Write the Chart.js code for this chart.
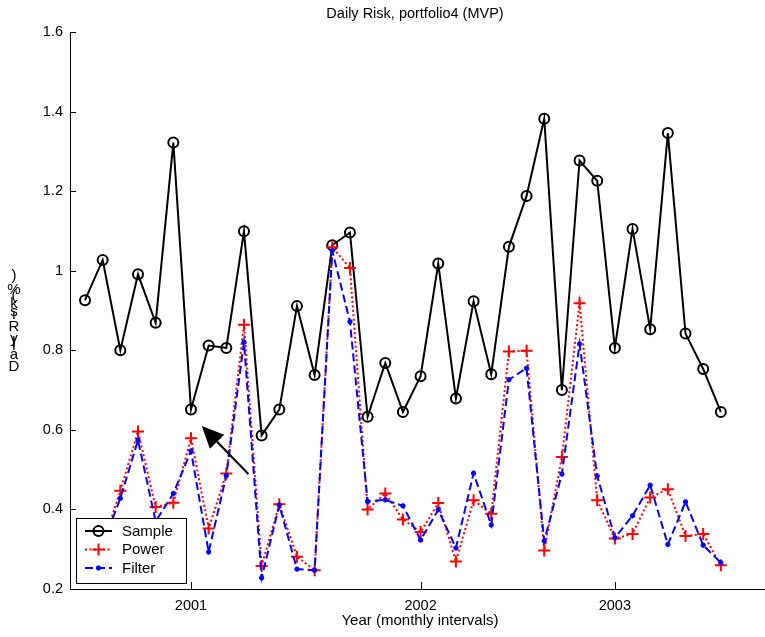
<!DOCTYPE html>
<html><head><meta charset="utf-8">
<script src="https://cdn.jsdelivr.net/npm/chart.js@4"></script>
<style>html,body{margin:0;padding:0;background:#fff}#wrap{width:765px;height:637px}</style>
</head><body><div id="wrap"><canvas id="c" width="765" height="637"></canvas></div>
<script>
// month index along the x axis (monthly intervals)
const monthIndex = [0,1,2,3,4,5,6,7,8,9,10,11,12,13,14,15,16,17,18,19,20,21,22,23,24,25,26,27,28,29,30,31,32,33,34,35,36];
const sampleRisk = [0.926,1.027,0.800,0.991,0.869,1.322,0.651,0.812,0.806,1.099,0.586,0.651,0.911,0.738,1.064,1.096,0.633,0.768,0.645,0.735,1.018,0.679,0.923,0.740,1.060,1.188,1.382,0.700,1.277,1.226,0.806,1.105,0.853,1.346,0.842,0.753,0.645];
const powerRisk  = [0.33,0.31,0.447,0.596,0.406,0.417,0.579,0.352,0.490,0.864,0.258,0.413,0.281,0.247,1.059,1.007,0.400,0.440,0.375,0.343,0.416,0.269,0.423,0.389,0.797,0.799,0.297,0.532,0.918,0.423,0.327,0.338,0.430,0.451,0.333,0.338,0.260];
const filterRisk = [0.33,0.31,0.428,0.574,0.370,0.440,0.547,0.293,0.485,0.820,0.228,0.411,0.250,0.247,1.050,0.872,0.420,0.424,0.409,0.323,0.399,0.303,0.491,0.361,0.726,0.755,0.321,0.489,0.816,0.484,0.329,0.384,0.461,0.312,0.419,0.310,0.266];
const yearTickPositions = [6,19,30];
const yearTickLabels = ['2001','2002','2003'];
const seriesNames = ['Sample','Power','Filter'];
const arrowTip = {x:6.61, y:0.610};
const arrowTail = {x:9.25, y:0.489};

const FONT = '"Liberation Sans", Arial, Helvetica, sans-serif';
const pts = arr => monthIndex.map((m,i)=>({x:m, y:arr[i]}));

// let the plot area reach the canvas edge (no marker overflow padding)
Chart.registry.getController('line').prototype.getMaxOverflow = function(){ return 0; };

const decor = {
  id:'decor',
  afterDraw(chart){
    const ctx = chart.ctx, a = chart.chartArea;
    const xs = chart.scales.x, ys = chart.scales.y;
    ctx.save();
    // inward tick marks
    ctx.strokeStyle = '#000'; ctx.lineWidth = 1;
    ys.ticks.forEach(t=>{
      const y = Math.round(ys.getPixelForValue(t.value))+0.5;
      ctx.beginPath(); ctx.moveTo(a.left, y); ctx.lineTo(a.left+6, y); ctx.stroke();
    });
    xs.ticks.forEach(t=>{
      const x = Math.round(xs.getPixelForValue(t.value))+0.5;
      ctx.beginPath(); ctx.moveTo(x, a.bottom); ctx.lineTo(x, a.bottom-7); ctx.stroke();
    });
    // title + x label
    ctx.fillStyle = '#000';
    ctx.font = '14.5px ' + FONT;
    ctx.textAlign = 'center'; ctx.textBaseline = 'middle';
    ctx.fillText('Daily Risk, portfolio4 (MVP)', 415, 14);
    ctx.font = '15px ' + FONT;
    ctx.fillText('Year (monthly intervals)', 420, 621);
    // y label: glyphs stacked upward, upright
    const lab = 'Daily Risk(%)';
    ctx.font = '15px ' + FONT;
    ctx.textAlign = 'center'; ctx.textBaseline = 'alphabetic';
    let pos = 371;
    for (const ch of lab){
      ctx.fillText(ch, 14, pos);
      pos -= ctx.measureText(ch).width * 1.07;
    }
    // arrow
    const tx = xs.getPixelForValue(arrowTip.x), ty = ys.getPixelForValue(arrowTip.y);
    const sx = xs.getPixelForValue(arrowTail.x), sy = ys.getPixelForValue(arrowTail.y);
    const ang = Math.atan2(ty-sy, tx-sx);
    const hl = 22, hw = 10;
    const bx = tx - hl*Math.cos(ang), by = ty - hl*Math.sin(ang);
    ctx.lineWidth = 2;
    ctx.beginPath(); ctx.moveTo(sx, sy); ctx.lineTo(bx, by); ctx.stroke();
    ctx.beginPath();
    ctx.moveTo(tx, ty);
    ctx.lineTo(bx + hw*Math.sin(ang), by - hw*Math.cos(ang));
    ctx.lineTo(bx - hw*Math.sin(ang), by + hw*Math.cos(ang));
    ctx.closePath(); ctx.fill();
    // legend
    const lx = 76.5, ly = 518.5, lw = 110, lh = 65;
    ctx.fillStyle = '#fff'; ctx.fillRect(lx, ly, lw, lh);
    ctx.strokeStyle = '#000'; ctx.lineWidth = 1; ctx.strokeRect(lx, ly, lw, lh);
    const rows = [531, 549.5, 568];
    const dss = chart.data.datasets;
    rows.forEach((ry,i)=>{
      const ds = dss[i];
      ctx.save();
      ctx.strokeStyle = ds.borderColor; ctx.lineWidth = ds.borderWidth;
      ctx.setLineDash(ds.borderDash || []);
      ctx.beginPath(); ctx.moveTo(85, ry); ctx.lineTo(112, ry); ctx.stroke();
      ctx.setLineDash([]);
      const cx = 98.5;
      ctx.lineWidth = ds.pointBorderWidth;
      ctx.strokeStyle = ds.pointBorderColor; ctx.fillStyle = ds.pointBackgroundColor;
      if (ds.pointStyle === 'circle'){
        ctx.beginPath(); ctx.arc(cx, ry, ds.pointRadius, 0, Math.PI*2);
        if (ds.pointBackgroundColor !== 'rgba(0,0,0,0)') ctx.fill();
        ctx.stroke();
      } else if (ds.pointStyle === 'cross'){
        const r = ds.pointRadius;
        ctx.beginPath(); ctx.moveTo(cx-r, ry); ctx.lineTo(cx+r, ry); ctx.moveTo(cx, ry-r); ctx.lineTo(cx, ry+r); ctx.stroke();
      }
      ctx.restore();
      ctx.fillStyle = '#000'; ctx.font = '15px ' + FONT;
      ctx.textAlign = 'left'; ctx.textBaseline = 'middle';
      ctx.fillText(seriesNames[i], 122, ry+0.5);
    });
    ctx.restore();
  }
};

new Chart(document.getElementById('c'), {
  type:'line',
  data:{ datasets:[
    {label:seriesNames[0], data:pts(sampleRisk), borderColor:'#000', borderWidth:2,
     pointStyle:'circle', pointRadius:5, pointBorderWidth:2, pointBorderColor:'#000', pointBackgroundColor:'rgba(0,0,0,0)', order:2, tension:0},
    {label:seriesNames[1], data:pts(powerRisk), borderColor:'#ff0000', borderWidth:2, borderDash:[2,2.5],
     pointStyle:'cross', pointRadius:6, pointBorderWidth:2, pointBorderColor:'#ff0000', pointBackgroundColor:'#ff0000', order:1, tension:0},
    {label:seriesNames[2], data:pts(filterRisk), borderColor:'#0000ff', borderWidth:2, borderDash:[8,4],
     pointStyle:'circle', pointRadius:2.2, pointBorderWidth:1, pointBorderColor:'#0000ff', pointBackgroundColor:'#0000ff', order:0, tension:0}
  ]},
  options:{
    responsive:false, animation:false, devicePixelRatio:1,
    layout:{padding:{top:32,right:0,bottom:0,left:0}},
    plugins:{legend:{display:false}, title:{display:false}, tooltip:{enabled:false}},
    elements:{point:{hoverRadius:0}},
    scales:{
      x:{type:'linear', min:-0.85, max:38.5,
         grid:{display:false, drawTicks:false}, border:{display:true, color:'#000', width:1},
         afterBuildTicks:s=>{ s.ticks = yearTickPositions.map(v=>({value:v})); },
         afterFit:s=>{ s.height = 48; s.paddingLeft = 0; s.paddingRight = 0; },
         ticks:{color:'#000', font:{family:FONT, size:14.5}, padding:8, maxRotation:0, autoSkip:false,
                callback:v=>yearTickLabels[yearTickPositions.indexOf(v)]}},
      y:{type:'linear', min:0.2, max:1.6,
         grid:{display:false, drawTicks:false}, border:{display:true, color:'#000', width:1},
         afterFit:s=>{ s.width = 70; s.paddingTop = 0; s.paddingBottom = 0; },
         ticks:{stepSize:0.2, color:'#000', font:{family:FONT, size:14.5}, padding:7,
                callback:v=>String(+v.toFixed(1))}}
    }
  },
  plugins:[decor]
});
</script></body></html>
